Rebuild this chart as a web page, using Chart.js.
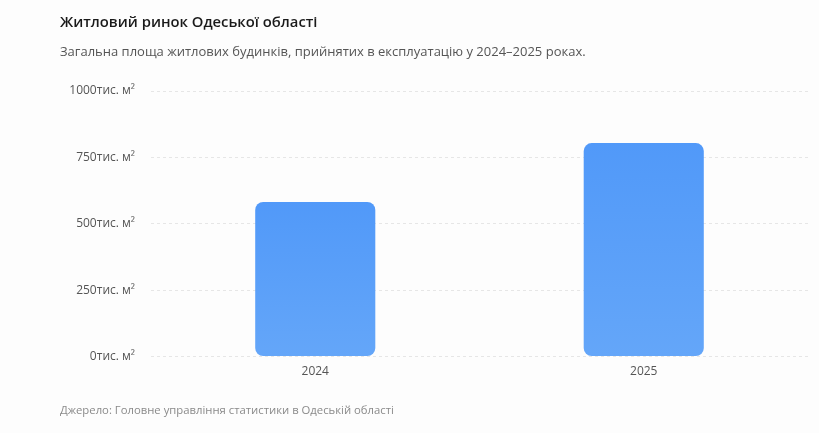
<!DOCTYPE html>
<html lang="uk">
<head>
<meta charset="utf-8">
<script src="https://cdn.jsdelivr.net/npm/chart.js@4.4.1/dist/chart.umd.min.js"></script>
<style>
  html, body { margin: 0; padding: 0; background: #fdfdfd; }
  body { width: 819px; height: 433px; position: relative; overflow: hidden; font-family: "Open Sans", "Noto Sans", sans-serif; }
  .title { position: absolute; left: 60px; top: 11px; font-size: 14.8px; font-weight: 600; color: #1a1a1a; white-space: nowrap; }
  .subtitle { position: absolute; left: 60px; top: 42px; font-size: 13px; color: #555; white-space: nowrap; }
  .source { position: absolute; left: 60px; top: 402px; font-size: 11.3px; color: #8a8a8a; white-space: nowrap; }
  .chart-box { position: absolute; left: 0; top: 0; width: 819px; height: 433px; }
</style>
</head>
<body>
<div class="chart-box"><canvas id="housingChart"></canvas></div>
<div class="title">Житловий ринок Одеської області</div>
<div class="subtitle">Загальна площа житлових будинків, прийнятих в експлуатацію у 2024–2025 роках.</div>
<div class="source">Джерело: Головне управління статистики в Одеській області</div>
<script>
// Data
const years = ['2024', '2025'];
const areaValues = [582, 804]; // тис. м²
const yTicks = [0, 250, 500, 750, 1000];
const unit = 'тис. м²';

const barTop = '#5199f9';
const barBottom = '#64a6f9';

Chart.defaults.font.family = '"Open Sans", "Noto Sans", sans-serif';
Chart.defaults.color = '#555';

// Vertical gradient for each bar
function barGradient(context) {
    const chart = context.chart;
    const { ctx, chartArea, scales } = chart;
    if (!chartArea) return barTop;
    const top = scales.y.getPixelForValue(context.raw);
    const bottom = scales.y.getPixelForValue(0);
    const g = ctx.createLinearGradient(0, top, 0, bottom);
    g.addColorStop(0, barTop);
    g.addColorStop(1, barBottom);
    return g;
}

new Chart(document.getElementById('housingChart'), {
    type: 'bar',
    data: {
        labels: years,
        datasets: [{
            data: areaValues,
            backgroundColor: barGradient,
            borderRadius: 8,
            borderSkipped: false,
            categoryPercentage: 0.8,
            barPercentage: 0.457
        }]
    },
    options: {
        responsive: true,
        maintainAspectRatio: false,
        animation: false,
        layout: { padding: { top: 91, right: 11, left: 0, bottom: 0 } },
        plugins: {
            legend: { display: false },
            tooltip: { enabled: false }
        },
        scales: {
            x: {
                grid: { display: false, drawTicks: false },
                border: { display: false },
                ticks: { padding: 8, font: { size: 12 }, color: '#555' },
                afterFit: scale => { scale.height = 76.5; }
            },
            y: {
                min: yTicks[0],
                max: yTicks[yTicks.length - 1],
                afterBuildTicks: scale => { scale.ticks = yTicks.map(v => ({ value: v })); },
                grid: { color: '#e6e6e6', drawTicks: false, lineWidth: 1 },
                border: { display: false, dash: [3, 3] },
                ticks: {
                    padding: 16,
                    font: { size: 12 },
                    color: '#555',
                    callback: v => v + unit
                },
                afterFit: scale => { scale.width = 151; }
            }
        }
    }
});
</script>
</body>
</html>
